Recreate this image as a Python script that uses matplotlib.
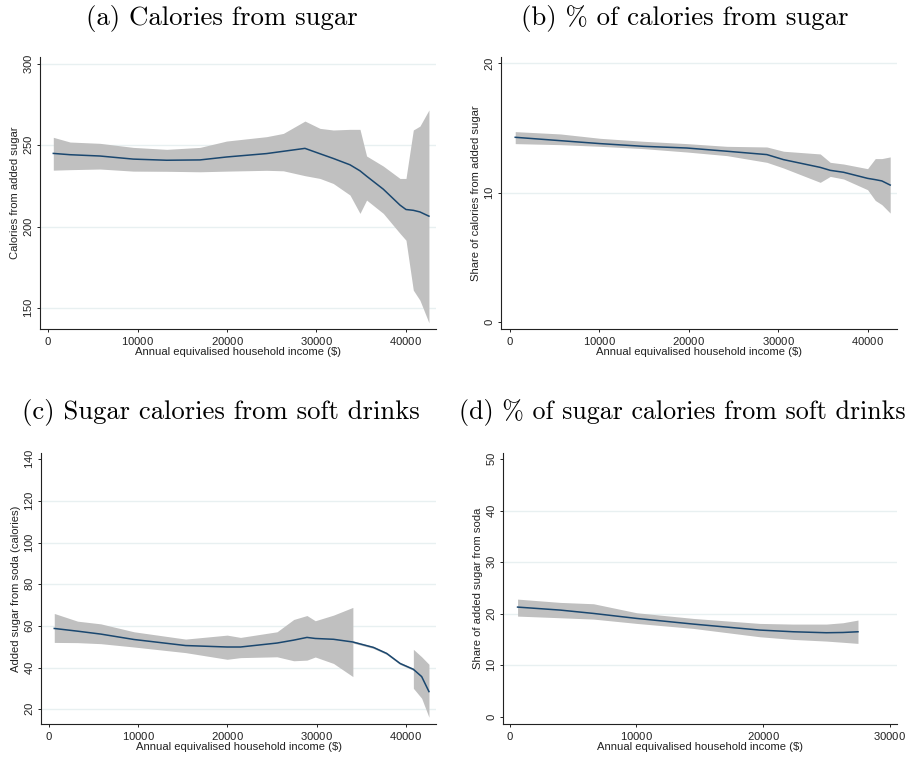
import matplotlib
matplotlib.use("Agg")
import matplotlib.pyplot as plt
from matplotlib.ticker import ScalarFormatter

# Stata-ish look
LINE = "#1a476f"
BAND = "#c0c0c0"
GRID = "#e8f0f1"
SANS = ["Liberation Sans", "DejaVu Sans"]
SERIF = ["cmr10", "DejaVu Serif"]

plt.rcParams["font.family"] = SANS
plt.rcParams["axes.formatter.use_mathtext"] = True

# (a) calories from added sugar
inc_a = [560, 2430, 5780, 9510, 13250, 16980, 19960, 24440, 26310, 28730, 30410,
         31900, 33770, 34890, 35630, 37500, 39370, 40040, 40860, 41600, 42610]
fit_a = [245.0, 244.2, 243.4, 241.5, 240.8, 241.0, 242.8, 244.9, 246.3, 248.1, 244.8,
         241.9, 238.0, 234.3, 231.0, 223.0, 213.2, 210.5, 210.0, 209.0, 206.4]
hi_a = [254.9, 252.0, 251.2, 248.7, 247.5, 248.7, 252.6, 255.3, 257.3, 264.9, 260.4,
        259.4, 259.8, 259.8, 243.4, 237.2, 229.6, 229.6, 259.4, 261.8, 271.7]
lo_a = [234.7, 235.0, 235.4, 234.1, 234.0, 233.7, 234.1, 234.6, 234.3, 231.3, 229.6,
        226.5, 219.4, 208.1, 216.3, 208.1, 195.8, 191.6, 160.9, 154.7, 140.8]

# (b) share of calories from added sugar
inc_b = [630, 5660, 10130, 14970, 19810, 24280, 28750, 30610, 34710, 35830, 37320,
         40000, 40860, 41600, 42530]
fit_b = [14.28, 14.02, 13.79, 13.58, 13.45, 13.2, 12.94, 12.55, 11.95, 11.72, 11.57,
         11.1, 11.0, 10.9, 10.58]
hi_b = [14.72, 14.54, 14.2, 13.97, 13.79, 13.58, 13.53, 13.2, 12.99, 12.34, 12.21,
        11.85, 12.63, 12.63, 12.76]
lo_b = [13.79, 13.71, 13.58, 13.4, 13.14, 12.86, 12.34, 11.9, 10.79, 11.25, 11.05,
        10.22, 9.39, 9.06, 8.41]

# (c) added sugar from soda
inc_c = [560, 3170, 5780, 9510, 15300, 19960, 21460, 25560, 27430, 28920, 29850,
         31900, 34070, 34070, 36380, 37870, 39370, 40860, 40860, 41790, 42610]
fit_c = [58.8, 57.5, 56.1, 53.5, 50.6, 49.9, 49.9, 51.8, 53.2, 54.5, 54.0,
         53.6, 52.3, 52.3, 49.7, 46.8, 42.0, 39.2, 39.2, 35.7, 28.5]
hi_c = [66.0, 62.3, 61.0, 57.2, 53.7, 55.6, 54.5, 57.2, 63.1, 65.0, 62.5,
        65.2, 68.9, 52.8, 50.2, 47.3, 42.5, 39.7, 48.8, 45.2, 41.6]
lo_c = [52.1, 52.0, 51.5, 49.9, 47.2, 44.0, 44.8, 45.2, 43.3, 43.6, 45.1,
        42.0, 35.7, 51.8, 49.2, 46.3, 41.5, 38.7, 30.1, 25.3, 16.2]

# (d) share of added sugar from soda
inc_d = [630, 3990, 6620, 10030, 14500, 19750, 22380, 25000, 26310, 27500]
fit_d = [21.28, 20.7, 20.05, 19.08, 17.98, 16.82, 16.49, 16.3, 16.35, 16.49]
hi_d = [22.83, 22.19, 21.93, 20.18, 19.08, 18.11, 17.98, 17.98, 18.24, 18.76]
lo_d = [19.53, 19.21, 18.95, 18.11, 17.14, 15.52, 15.0, 14.68, 14.45, 14.23]

titles = ["(a) Calories from sugar", "(b) % of calories from sugar",
          "(c) Sugar calories from soft drinks", "(d) % of sugar calories from soft drinks"]
ylabels = ["Calories from added sugar", "Share of calories from added sugar",
           "Added sugar from soda (calories)", "Share of added sugar from soda"]
xlabel = "Annual equivalised household income ($)"

W, H = 909, 757
FS = 8.1
fig = plt.figure(figsize=(W / 100, H / 100), dpi=100)


def px_axes(left, top, right, bottom):
    return fig.add_axes([left / W, (H - bottom) / H, (right - left) / W, (bottom - top) / H])


panels = [
    dict(box=(40, 57, 436, 329), x=inc_a, y=fit_a, lo=lo_a, hi=hi_a,
         xlim=(-930, 43400), ylim=(137, 304.3), xt=[0, 10000, 20000, 30000, 40000],
         yt=[150, 200, 250, 300], grid=[150, 200, 250, 300], tx=222, ty=19, ts=19.3),
    dict(box=(501, 57, 897, 329), x=inc_b, y=fit_b, lo=lo_b, hi=hi_b,
         xlim=(-960, 43290), ylim=(-0.57, 20.5), xt=[0, 10000, 20000, 30000, 40000],
         yt=[0, 10, 20], grid=[10, 20], tx=685, ty=19, ts=19.3),
    dict(box=(41, 453, 436, 724), x=inc_c, y=fit_c, lo=lo_c, hi=hi_c,
         xlim=(-930, 43400), ylim=(12.95, 143), xt=[0, 10000, 20000, 30000, 40000],
         yt=[20, 40, 60, 80, 100, 120, 140], grid=[20, 40, 60, 80, 100, 120],
         tx=221, ty=413, ts=19.2),
    dict(box=(503, 453, 897, 724), x=inc_d, y=fit_d, lo=lo_d, hi=hi_d,
         xlim=(-520, 30580), ylim=(-1.42, 51.2), xt=[0, 10000, 20000, 30000],
         yt=[0, 10, 20, 30, 40, 50], grid=[10, 20, 30, 40], tx=682, ty=413, ts=18.7),
]

for p, title, ylab in zip(panels, titles, ylabels):
    ax = px_axes(*p["box"])
    for g in p["grid"]:
        ax.axhline(g, color=GRID, lw=1.0, zorder=0)
    ax.fill_between(p["x"], p["lo"], p["hi"], color=BAND, lw=0, zorder=1)
    ax.plot(p["x"], p["y"], color=LINE, lw=1.1, zorder=2)

    ax.set_xlim(*p["xlim"])
    ax.set_ylim(*p["ylim"])
    ax.set_xticks(p["xt"])
    ax.set_yticks(p["yt"])
    fmt = ScalarFormatter(useOffset=False)
    fmt.set_scientific(False)
    ax.xaxis.set_major_formatter(fmt)

    ax.spines["top"].set_visible(False)
    ax.spines["right"].set_visible(False)
    for s in ("left", "bottom"):
        ax.spines[s].set_linewidth(0.8)
        ax.spines[s].set_color("#222222")
    ax.tick_params(length=2.5, width=0.7, color="#222222", labelsize=FS,
                   labelcolor="#222222", pad=1.5)
    for lab in ax.get_yticklabels():
        lab.set_rotation(90)
        lab.set_va("center")

    ax.set_xlabel(xlabel, fontsize=FS, labelpad=0, color="#222222")
    ax.set_ylabel(ylab, fontsize=FS, labelpad=2, color="#222222")

    fig.text(p["tx"] / W, 1 - p["ty"] / H, title, family=SERIF, fontsize=p["ts"],
             ha="center", va="center")

fig.savefig("out.png", dpi=100, facecolor="white")
